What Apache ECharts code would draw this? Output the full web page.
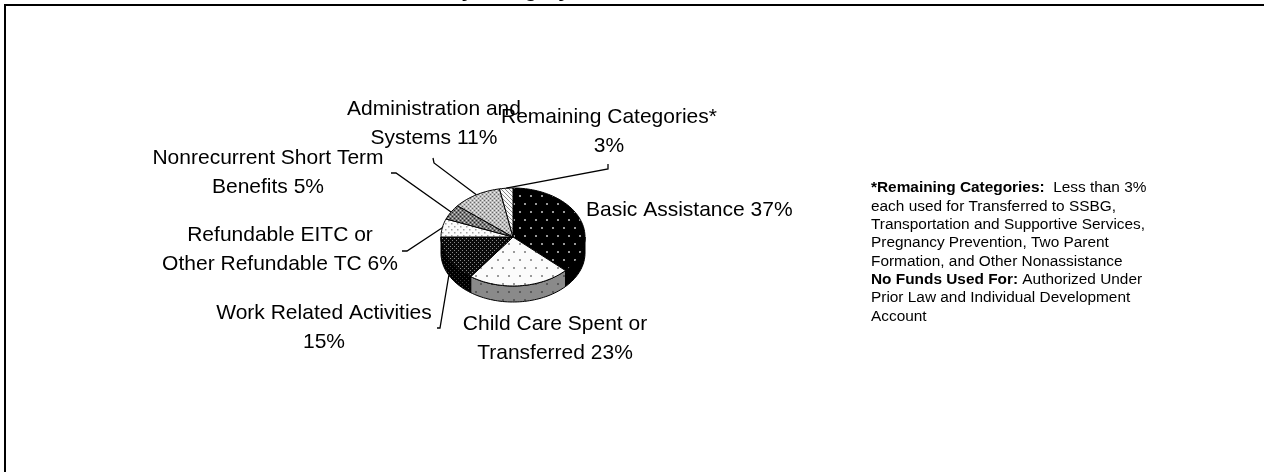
<!DOCTYPE html>
<html>
<head>
<meta charset="utf-8">
<script src="https://cdn.jsdelivr.net/npm/echarts@6/dist/echarts.min.js"></script>
<style>
  html, body { margin: 0; padding: 0; background: #fff; }
  #chart { width: 1264px; height: 472px; }
</style>
</head>
<body>
<div id="chart"></div>
<script>
// Slices, clockwise from 12 o'clock.
const categories = [
  'Basic Assistance',
  'Child Care Spent or\nTransferred',
  'Work Related Activities',
  'Refundable EITC or\nOther Refundable TC',
  'Nonrecurrent Short Term\nBenefits',
  'Administration and\nSystems',
  'Remaining Categories*',
];
const shares = [37, 23, 15, 6, 5, 11, 3];

const titleText = 'Use of Federal TANF Funds by Category';
const noteLines = [
  '{b|*Remaining Categories:}  Less than 3%',
  'each used for Transferred to SSBG,',
  'Transportation and Supportive Services,',
  'Pregnancy Prevention, Two Parent',
  'Formation, and Other Nonassistance',
  '{b|No Funds Used For:} Authorized Under',
  'Prior Law and Individual Development',
  'Account',
];

const FONT = '"Liberation Sans", Arial, sans-serif';
// tilted pie: top face ellipse + visible side depth
const PIE = { cx: 513, cy: 237, rx: 72, ry: 49, depth: 16 };

// label block placement per slice (same order as categories); leader = elbow near the label
const labelLayout = [
  { x: 586, y: 196, align: 'left', sep: ' ', leader: null },
  { x: 555, y: 310, align: 'center', sep: ' ', leader: null },
  { x: 324, y: 299, align: 'center', sep: '\n', leader: [[437, 328], [440, 328]] },
  { x: 280, y: 221, align: 'center', sep: ' ', leader: [[402, 251], [407, 251]] },
  { x: 268, y: 144, align: 'center', sep: ' ', leader: [[391, 173], [396, 173]] },
  { x: 434, y: 95, align: 'center', sep: ' ', leader: [[433, 158], [434, 163]] },
  { x: 609, y: 103, align: 'center', sep: '\n', leader: [[608, 164], [608, 169]] },
];

// --- fill patterns (Excel-style b/w hatches) ---
function pattern(w, h, bg, draw) {
  const c = document.createElement('canvas');
  c.width = w; c.height = h;
  const ctx = c.getContext('2d');
  ctx.fillStyle = bg;
  ctx.fillRect(0, 0, w, h);
  draw(ctx);
  return { image: c, repeat: 'repeat' };
}
const dots = (col, pts, s) => (ctx) => {
  ctx.fillStyle = col;
  pts.forEach(([x, y]) => ctx.fillRect(x, y, s, s));
};
const topFills = [
  pattern(11, 16, '#000', dots('#999', [[2, 3], [7, 11]], 2)),
  pattern(11, 16, '#fbfbfb', dots('#9a9a9a', [[2, 3], [7, 11]], 2)),
  pattern(4, 4, '#0a0a0a', dots('#8a8a8a', [[0, 0], [2, 2]], 1)),
  pattern(6, 6, '#fbfbfb', dots('#a0a0a0', [[1, 1], [4, 4]], 1.5)),
  pattern(4, 4, '#7a7a7a', (ctx) => {
    dots('#222', [[0, 0], [2, 2]], 1)(ctx);
    dots('#d0d0d0', [[2, 0], [0, 2]], 1)(ctx);
  }),
  pattern(4, 4, '#bcbcbc', (ctx) => {
    dots('#666', [[0, 0], [2, 2]], 1)(ctx);
    dots('#f0f0f0', [[2, 0], [0, 2]], 1)(ctx);
  }),
  pattern(4, 4, '#fbfbfb', (ctx) => {
    ctx.strokeStyle = '#8a8a8a';
    ctx.lineWidth = 1;
    ctx.beginPath();
    ctx.moveTo(-1, -1); ctx.lineTo(5, 5);
    ctx.moveTo(-1, 3); ctx.lineTo(1, 5);
    ctx.moveTo(3, -1); ctx.lineTo(5, 1);
    ctx.stroke();
  }),
];
const sideFills = [
  '#000',
  pattern(11, 16, '#8a8a8a', dots('#5a5a5a', [[2, 3], [7, 11]], 2)),
  pattern(4, 4, '#000', dots('#3c3c3c', [[0, 0], [2, 2]], 1)),
  '#777', '#555', '#888', '#aaa',
];

const DEG = Math.PI / 180;
function pt(a, dy) {
  return [PIE.cx + PIE.rx * Math.sin(a), PIE.cy - PIE.ry * Math.cos(a) + (dy || 0)];
}
function arc(a1, a2, dy) {
  const n = Math.max(2, Math.ceil((a2 - a1) / (2 * DEG)));
  const out = [];
  for (let k = 0; k <= n; k++) out.push(pt(a1 + (a2 - a1) * k / n, dy));
  return out;
}

function renderItem(params, api) {
  const i = params.dataIndex;
  const total = shares.reduce((a, b) => a + b, 0);
  const before = shares.slice(0, i).reduce((a, b) => a + b, 0);
  const v = api.value(0);
  const a1 = before / total * 2 * Math.PI;
  const a2 = (before + v) / total * 2 * Math.PI;
  const children = [];

  // side wall, only the front half (90°..270° clockwise from top) is visible
  const s = Math.max(a1, 90 * DEG), e = Math.min(a2, 270 * DEG);
  if (s < e) {
    const upper = arc(s, e, 0);
    const lower = arc(s, e, PIE.depth).reverse();
    children.push({
      type: 'polygon', z2: 1,
      shape: { points: upper.concat(lower) },
      style: { fill: sideFills[i], stroke: '#000', lineWidth: 1 },
    });
  }
  children.push({
    type: 'polygon', z2: 5,
    shape: { points: [[PIE.cx, PIE.cy]].concat(arc(a1, a2, 0)) },
    style: { fill: topFills[i], stroke: '#000', lineWidth: 1 },
  });

  const lay = labelLayout[i];
  if (lay.leader) {
    const m = (a1 + a2) / 2;
    const onFront = m > 90 * DEG && m < 270 * DEG;
    children.push({
      type: 'polyline', z2: 8,
      shape: { points: lay.leader.concat([pt(m, onFront ? PIE.depth : 0)]) },
      style: { fill: null, stroke: '#000', lineWidth: 1.3 },
    });
  }
  children.push({
    type: 'text', z2: 10 + i,
    style: {
      text: categories[i] + lay.sep + v + '%',
      x: lay.x, y: lay.y,
      font: '21px ' + FONT,
      fill: '#000',
      align: lay.align, textAlign: lay.align,
      verticalAlign: 'top', textVerticalAlign: 'top',
      lineHeight: 29,
    },
  });
  return { type: 'group', children };
}

const chart = echarts.init(document.getElementById('chart'), null, { renderer: 'canvas' });
chart.setOption({
  animation: false,
  backgroundColor: '#fff',
  graphic: [
    {
      type: 'rect', silent: true,
      shape: { x: 5, y: 5, width: 1400, height: 600 },
      style: { fill: 'none', stroke: '#000', lineWidth: 2 },
    },
    {
      type: 'text', silent: true,
      style: {
        text: titleText, x: 570, y: -21,
        font: 'bold 21px ' + FONT, fill: '#000',
        align: 'right', textAlign: 'right',
        verticalAlign: 'top', textVerticalAlign: 'top', lineHeight: 24,
      },
    },
    {
      type: 'text', silent: true,
      style: {
        text: noteLines.join('\n'), x: 871, y: 179,
        font: '15.4px ' + FONT, fill: '#000',
        verticalAlign: 'top', textVerticalAlign: 'top',
        lineHeight: 18.3,
        rich: {
          b: { fontWeight: 'bold', fontSize: 15.4, fontFamily: FONT, lineHeight: 18.3 },
        },
      },
    },
  ],
  series: [{
    type: 'custom',
    coordinateSystem: 'none',
    silent: true,
    data: shares,
    renderItem,
  }],
});
</script>
</body>
</html>
